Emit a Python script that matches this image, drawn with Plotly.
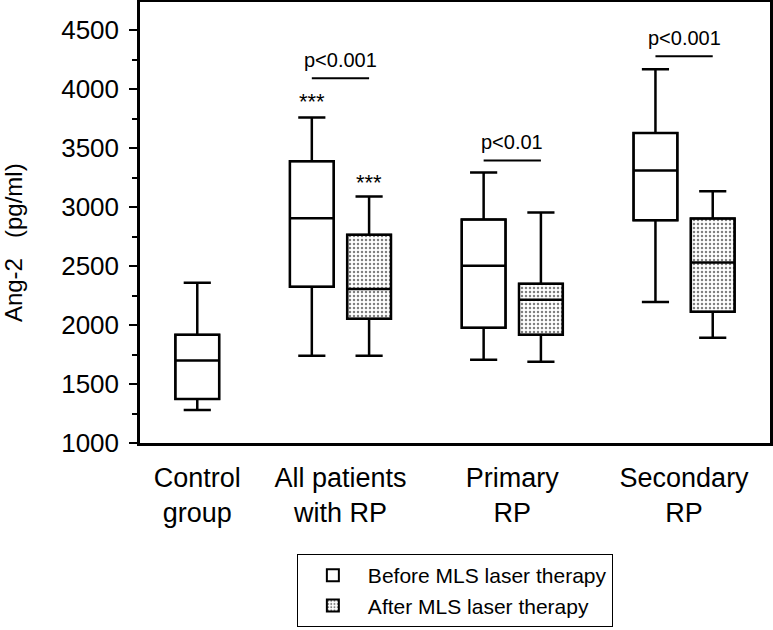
import plotly.graph_objects as go

# group labels and where the groups sit on the x axis
groups = ['Control<br>group', 'All patients<br>with RP', 'Primary<br>RP', 'Secondary<br>RP']
group_pos = [0, 2.5, 5.5, 8.5]

# before MLS laser therapy (control group + three patient groups)
before_x = [0, 2, 5, 8]
before_low = [1280, 1740, 1705, 2195]
before_q1 = [1374, 2325, 1977, 2890]
before_med = [1700, 2905, 2504, 3310]
before_q3 = [1918, 3390, 2895, 3630]
before_high = [2360, 3761, 3294, 4170]

# after MLS laser therapy (patient groups only)
after_x = [3, 6, 9]
after_low = [1739, 1690, 1892]
after_q1 = [2053, 1918, 2113]
after_med = [2305, 2215, 2530]
after_q3 = [2767, 2351, 2903]
after_high = [3090, 2954, 3135]

# significance brackets: (from, to, level, text)
sig_from = [2, 5, 8]
sig_to = [3, 6, 9]
sig_y = [4093, 3396, 4280]
sig_text = ['p<0.001', 'p<0.01', 'p<0.001']
star_x = [2, 3]
star_y = [3897, 3209]

FONT = 'Arial, Liberation Sans, sans-serif'
BW = 0.765
LW = 2.5

fig = go.Figure()

# bars carry the fill (plain / stippled) and the legend entries
fig.add_trace(go.Bar(
    x=before_x, y=[h - l for h, l in zip(before_q3, before_q1)], base=before_q1,
    width=BW, name='Before MLS laser therapy',
    marker=dict(color='white', line=dict(color='black', width=2)),
    hoverinfo='skip',
))
fig.add_trace(go.Bar(
    x=after_x, y=[h - l for h, l in zip(after_q3, after_q1)], base=after_q1,
    width=BW, name='After MLS laser therapy',
    marker=dict(color='white', line=dict(color='black', width=2),
                pattern=dict(shape='.', fgcolor='black', bgcolor='white',
                             size=4, solidity=0.3)),
    hoverinfo='skip',
))

# box outlines, medians and whiskers on top
for xs, lo, q1, md, q3, hi in [
        (before_x, before_low, before_q1, before_med, before_q3, before_high),
        (after_x, after_low, after_q1, after_med, after_q3, after_high)]:
    fig.add_trace(go.Box(
        x=xs, lowerfence=lo, q1=q1, median=md, q3=q3, upperfence=hi,
        width=BW, whiskerwidth=0.62, fillcolor='rgba(0,0,0,0)',
        line=dict(color='black', width=LW), showlegend=False,
    ))

for x0, x1, yv, txt in zip(sig_from, sig_to, sig_y, sig_text):
    fig.add_shape(type='line', x0=x0, x1=x1, y0=yv, y1=yv,
                  line=dict(color='black', width=2))
    fig.add_annotation(x=(x0 + x1) / 2, y=yv, text=txt, showarrow=False,
                       yanchor='bottom', yshift=5,
                       font=dict(family=FONT, size=20, color='black'))

for sx, sy in zip(star_x, star_y):
    fig.add_annotation(x=sx, y=sy, text='***', showarrow=False,
                       font=dict(family=FONT, size=22, color='black'))

# y axis title, placed a little below the middle like the original
fig.add_annotation(xref='paper', yref='paper', x=-0.225, y=0.455,
                   text='Ang-2   (pg/ml)', textangle=-90, showarrow=False,
                   font=dict(family=FONT, size=24, color='black'))

fig.update_layout(
    width=773, height=630,
    margin=dict(l=140, r=3, t=2, b=187),
    plot_bgcolor='white', paper_bgcolor='white',
    barmode='overlay', boxmode='overlay',
    font=dict(family=FONT, size=24, color='black'),
    legend=dict(
        x=0.249, y=-0.252, xanchor='left', yanchor='top',
        bordercolor='black', borderwidth=1,
        font=dict(family=FONT, size=21, color='black'),
        itemwidth=60,
    ),
)
fig.update_xaxes(
    range=[-1, 10], tickvals=group_pos, ticktext=groups,
    showline=True, linecolor='black', linewidth=2.5, mirror=True,
    ticks='', showgrid=False, zeroline=False, automargin=False,
    ticklabelstandoff=9,
    tickfont=dict(family=FONT, size=27, color='black'),
)
fig.update_yaxes(
    range=[1000, 4740], tickvals=[1000, 1500, 2000, 2500, 3000, 3500, 4000, 4500],
    showline=True, linecolor='black', linewidth=2.5, mirror=True,
    ticks='outside', ticklen=8, tickwidth=2, tickcolor='black',
    minor=dict(dtick=250, ticks='outside', ticklen=5, tickwidth=2, tickcolor='black'),
    showgrid=False, zeroline=False, automargin=False,
    ticklabelstandoff=5,
    tickfont=dict(family=FONT, size=26, color='black'),
)

fig.write_html(
    'out.html',
    config={'responsive': False, 'displayModeBar': False},
    post_script=("document.body.style.margin='0';"
                 "document.body.style.overflow='hidden';"),
)
